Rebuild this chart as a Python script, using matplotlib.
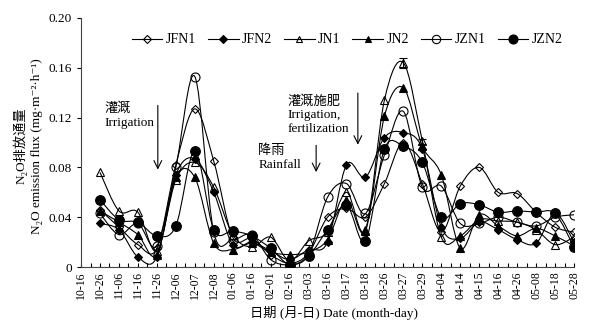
import numpy as np
import matplotlib
matplotlib.use('Agg')
import matplotlib.pyplot as plt
from matplotlib.path import Path
from matplotlib.patches import PathPatch
from matplotlib.lines import Line2D

plt.rcParams['font.family'] = ['Liberation Serif', 'DejaVu Serif', 'Noto Sans CJK SC']

dates = ['10-16', '10-26', '11-06', '11-16', '11-26', '12-06', '12-07', '12-08',
         '01-06', '01-16', '02-01', '02-16', '03-03', '03-16', '03-17', '03-18',
         '03-26', '03-27', '03-29', '04-04', '04-14', '04-15', '04-16', '04-26',
         '05-08', '05-18', '05-28']

# sampling starts on 10-26
jfn1 = [0.046, 0.032, 0.018, 0.015, 0.082, 0.127, 0.085, 0.024, 0.023, 0.010, 0.003, 0.011, 0.040,
        0.047, 0.040, 0.067, 0.100, 0.067, 0.028, 0.065, 0.080, 0.060, 0.059, 0.044, 0.032, 0.028]
jfn2 = [0.035, 0.030, 0.008, 0.008, 0.074, 0.087, 0.060, 0.018, 0.020, 0.013, 0.006, 0.014, 0.020,
        0.082, 0.072, 0.104, 0.108, 0.095, 0.032, 0.023, 0.036, 0.030, 0.022, 0.019, 0.043, 0.020]
jn1 = [0.076, 0.045, 0.044, 0.013, 0.070, 0.084, 0.064, 0.026, 0.016, 0.024, 0.005, 0.021, 0.028,
       0.060, 0.030, 0.134, 0.164, 0.101, 0.024, 0.025, 0.038, 0.037, 0.036, 0.030, 0.018, 0.024]
jn2 = [0.045, 0.036, 0.026, 0.010, 0.072, 0.072, 0.019, 0.014, 0.019, 0.012, 0.010, 0.012, 0.022,
       0.054, 0.029, 0.121, 0.144, 0.097, 0.074, 0.015, 0.042, 0.033, 0.025, 0.031, 0.025, 0.017]
jzn1 = [0.043, 0.026, 0.035, 0.017, 0.080, 0.153, 0.028, 0.022, 0.026, 0.006, 0.002, 0.010, 0.056,
        0.067, 0.043, 0.090, 0.125, 0.064, 0.065, 0.035, 0.035, 0.040, 0.036, 0.033, 0.040, 0.042]
jzn2 = [0.054, 0.038, 0.036, 0.025, 0.033, 0.093, 0.030, 0.029, 0.025, 0.015, 0.002, 0.009, 0.030,
        0.050, 0.021, 0.095, 0.097, 0.084, 0.040, 0.051, 0.050, 0.044, 0.045, 0.044, 0.043, 0.016]
jn1_err = [0, 0, 0, 0, 0, 0, 0, 0, 0, 0, 0, 0, 0,
           0, 0, 0, 0.004, 0.002, 0, 0, 0, 0, 0, 0, 0, 0]

series = [('JFN1', jfn1, 'D', 'none', 4.5),
          ('JFN2', jfn2, 'D', 'black', 4.5),
          ('JN1', jn1, '^', 'none', 5.5),
          ('JN2', jn2, '^', 'black', 5.5),
          ('JZN1', jzn1, 'o', 'none', 6.5),
          ('JZN2', jzn2, 'o', 'black', 7)]


def smooth_path(x, y):
    # Catmull-Rom style cubic Bezier through the points (like spreadsheet "smoothed line")
    pts = np.column_stack([x, y])
    n = len(pts)
    verts = [pts[0]]
    codes = [Path.MOVETO]
    for i in range(n - 1):
        p0 = pts[i - 1] if i > 0 else pts[i]
        p1 = pts[i]
        p2 = pts[i + 1]
        p3 = pts[i + 2] if i + 2 < n else pts[i + 1]
        c1 = p1 + (p2 - p0) / 6
        c2 = p2 - (p3 - p1) / 6
        verts += [c1, c2, p2]
        codes += [Path.CURVE4] * 3
    return Path(verts, codes)


fig = plt.figure(figsize=(6.02, 3.29), dpi=100)
ax = fig.add_axes([0.1346, 0.1884, 0.8189, 0.7569])

x = np.arange(1, len(dates))
handles = []
for name, vals, mk, fc, ms in series:
    ax.add_patch(PathPatch(smooth_path(x, vals), fill=False, ec='black', lw=0.8, zorder=2))
    ax.plot(x, vals, ls='none', marker=mk, mfc=fc, mec='black', mew=0.8, ms=ms, zorder=3)
    handles.append(Line2D([], [], color='black', lw=0.8, marker=mk, mfc=fc, mec='black',
                          mew=0.8, ms=ms - 0.5, label=name))

err = np.array(jn1_err)
sel = err > 0
ax.errorbar(x[sel], np.array(jn1)[sel], yerr=err[sel], fmt='none', ecolor='black',
            elinewidth=0.8, capsize=3, capthick=0.8, zorder=3)

ax.set_xlim(0, len(dates) - 1)
ax.set_ylim(0, 0.20)
ax.set_xticks(np.arange(len(dates)))
ax.set_xticklabels(dates, rotation=90, fontsize=8.5)
ax.set_xticks(np.arange(len(dates) - 1) + 0.5, minor=True)
ax.tick_params(axis='x', which='both', direction='in', length=3, width=0.8, pad=3)
yt = [0, 0.04, 0.08, 0.12, 0.16, 0.20]
ax.set_yticks(yt)
ax.set_yticklabels(['0', '0.04', '0.08', '0.12', '0.16', '0.20'], fontsize=9.5)
ax.tick_params(axis='y', direction='out', length=3, width=0.8)
for s in ['top', 'right']:
    ax.spines[s].set_visible(False)
for s in ['left', 'bottom']:
    ax.spines[s].set_linewidth(0.8)
    ax.spines[s].set_color('#444444')

ax.legend(handles=handles, loc='center', bbox_to_anchor=(0.54, 0.912), ncol=6,
          frameon=False, fontsize=10, handlelength=2.2, handletextpad=0.25,
          columnspacing=0.85, borderaxespad=0)

fig.text(0.034, 0.556, 'N₂O排放通量', rotation=90, ha='center', va='center', fontsize=9.5)
fig.text(0.062, 0.556, 'N₂O emission flux (mg·m⁻²·h⁻¹)', rotation=90, ha='center',
         va='center', fontsize=9.5)
fig.text(0.555, 0.048, '日期 (月-日) Date (month-day)', ha='center', va='center', fontsize=9.5)

# event annotations
ax.text(1.25, 0.122, '灌溉\nIrrigation', fontsize=9.5, va='center', ha='left', linespacing=1.25)
ax.annotate('', xy=(4.05, 0.076), xytext=(4.05, 0.132),
            arrowprops=dict(arrowstyle='->', lw=0.8, color='black', mutation_scale=14))
ax.text(9.35, 0.088, '降雨\nRainfall', fontsize=9.5, va='center', ha='left', linespacing=1.25)
ax.annotate('', xy=(12.4, 0.074), xytext=(12.4, 0.1),
            arrowprops=dict(arrowstyle='->', lw=0.8, color='black', mutation_scale=14))
ax.text(10.9, 0.122, '灌溉施肥\nIrrigation,\nfertilization', fontsize=9.5, va='center',
        ha='left', linespacing=1.15)
ax.annotate('', xy=(14.6, 0.096), xytext=(14.6, 0.142),
            arrowprops=dict(arrowstyle='->', lw=0.8, color='black', mutation_scale=14))

fig.savefig('out.png', dpi=100)
